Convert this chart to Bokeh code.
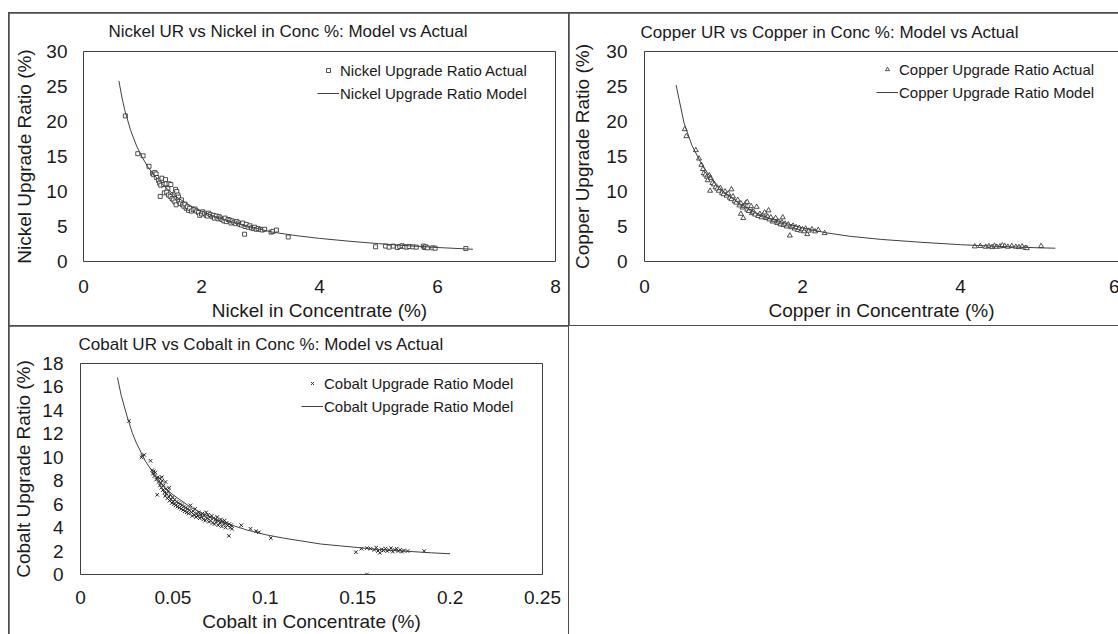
from bokeh.plotting import figure
from bokeh.models import (Range1d, FixedTicker, NumeralTickFormatter, Legend, LegendItem,
                          Spacer, Div)
from bokeh.layouts import row, column
from bokeh.embed import file_html
from bokeh.resources import INLINE

# ---------------- data ----------------
ni_x = [0.71, 0.92, 1.01, 1.11, 1.17, 1.19, 1.21, 1.23, 1.24, 1.27, 1.29, 1.31, 1.33, 1.36, 1.39, 1.40,
        1.43, 1.45, 1.48, 1.30, 1.37, 1.41, 1.44, 1.47, 1.50, 1.52, 1.54, 1.56, 1.58, 1.60, 1.61, 1.55,
        1.57, 1.62, 1.64, 1.66, 1.68, 1.70, 1.72, 1.74, 1.76, 1.78, 1.80, 1.83, 1.86, 1.89, 1.92, 1.95,
        1.97, 2.00, 2.02, 2.05, 2.08, 2.10, 2.12, 2.15, 2.18, 2.20, 2.22, 2.25, 2.28, 2.30, 2.32, 2.35,
        2.38, 2.40, 2.42, 2.45, 2.48, 2.50, 2.52, 2.55, 2.58, 2.60, 2.63, 2.65, 2.68, 2.70, 2.73, 2.74,
        2.76, 2.79, 2.82, 2.85, 2.88, 2.90, 2.93, 2.96, 3.00, 3.03, 3.07, 3.18, 3.21, 3.27, 3.47,
        4.95, 5.12, 5.18, 5.25, 5.32, 5.36, 5.40, 5.44, 5.48, 5.52, 5.58, 5.64, 5.76, 5.78, 5.80, 5.83,
        5.92, 5.96, 6.48]
ni_y = [20.8, 15.4, 15.1, 13.6, 12.6, 12.4, 12.7, 12.5, 12.0, 11.6, 11.2, 10.9, 11.9, 11.0, 11.7, 11.1,
        10.4, 11.1, 11.0, 9.3, 9.8, 9.9, 9.5, 9.3, 9.0, 8.8, 9.6, 10.3, 10.0, 9.5, 9.2, 8.5,
        8.1, 8.6, 8.3, 8.8, 8.1, 7.9, 8.2, 7.6, 7.8, 7.3, 7.6, 7.2, 7.4, 7.5, 7.2, 7.0,
        6.6, 6.8, 7.1, 6.9, 6.6, 6.5, 6.9, 6.7, 6.4, 6.6, 6.2, 6.5, 6.1, 6.4, 6.2, 6.0,
        5.8, 6.2, 5.7, 6.0, 5.9, 5.5, 5.8, 5.6, 5.4, 5.7, 5.5, 5.3, 5.2, 5.5, 3.9, 5.0,
        5.3, 4.9, 5.1, 4.8, 4.7, 4.9, 4.6, 4.7, 4.6, 4.5, 4.6, 4.2, 4.3, 4.5, 3.5,
        2.1, 2.2, 2.05, 2.2, 2.0, 2.15, 2.25, 2.1, 2.05, 2.15, 2.1, 2.05, 2.2, 2.0, 2.1, 1.95,
        1.95, 1.9, 1.85]
ni_model_x = [0.6, 0.65, 0.7, 0.8, 0.9, 1.0, 1.1, 1.2, 1.4, 1.6, 1.8, 2.0, 2.2, 2.5, 2.8, 3.2, 3.6,
              4.0, 4.5, 5.0, 5.5, 6.0, 6.6]
ni_model_y = [25.8, 23.5, 21.6, 18.7, 16.5, 14.8, 13.4, 12.3, 10.5, 9.1, 8.0, 7.2, 6.5, 5.7, 5.0, 4.2,
              3.7, 3.3, 2.9, 2.55, 2.25, 2.0, 1.75]

cu_x = [0.51, 0.53, 0.65, 0.69, 0.72, 0.74, 0.75, 0.77, 0.79, 0.80, 0.82, 0.84, 0.83, 0.86, 0.88, 0.90,
        0.92, 0.94, 0.96, 0.98, 1.00, 1.02, 1.04, 1.06, 1.08, 1.10, 1.12, 1.14, 1.16, 1.18, 1.20, 1.22,
        1.24, 1.26, 1.28, 1.30, 1.32, 1.34, 1.36, 1.38, 1.40, 1.42, 1.44, 1.46, 1.48, 1.50, 1.52, 1.54,
        1.56, 1.58, 1.60, 1.62, 1.64, 1.66, 1.68, 1.70, 1.72, 1.74, 1.76, 1.78, 1.80, 1.82, 1.84, 1.86,
        1.88, 1.90, 1.92, 1.94, 1.96, 1.98, 2.00, 2.02, 2.04, 2.06, 2.08, 2.12, 2.16, 2.20, 2.28,
        1.10, 1.30, 1.35, 1.57, 1.75, 1.22, 1.25,
        4.18, 4.25, 4.32, 4.36, 4.40, 4.43, 4.46, 4.50, 4.53, 4.56, 4.60, 4.65, 4.70, 4.74, 4.78, 4.82,
        4.84, 5.02]
cu_y = [18.9, 17.9, 15.9, 14.7, 13.8, 13.2, 12.6, 12.4, 12.1, 11.6, 12.3, 11.9, 10.1, 11.2, 11.0, 10.6,
        10.4, 10.1, 10.5, 9.8, 9.6, 10.0, 9.4, 9.7, 9.1, 8.9, 9.3, 8.6, 8.4, 8.8, 8.0, 8.3,
        7.7, 7.9, 8.3, 7.4, 7.2, 7.6, 6.9, 7.1, 6.7, 7.8, 6.5, 6.8, 6.3, 6.6, 7.0, 6.2,
        6.4, 6.0, 6.3, 5.7, 5.9, 6.2, 5.5, 5.7, 5.3, 5.6, 5.2, 5.4, 5.0, 5.3, 3.7, 4.9,
        5.1, 4.7, 4.9, 4.5, 4.8, 4.4, 4.6, 4.3, 4.7, 3.9, 4.4, 4.6, 4.3, 4.5, 4.05,
        10.3, 8.5, 7.9, 7.3, 6.3, 6.8, 6.2,
        2.15, 2.2, 2.1, 2.2, 2.05, 2.25, 2.1, 2.15, 2.3, 2.2, 2.1, 2.2, 2.1, 2.05, 2.15, 1.95,
        1.9, 2.2]
cu_model_x = [0.4, 0.5, 0.6, 0.7, 0.8, 0.9, 1.0, 1.2, 1.4, 1.6, 1.8, 2.0, 2.3, 2.6, 3.0, 3.5, 4.0,
              4.5, 5.0, 5.2]
cu_model_y = [25.2, 19.8, 16.6, 14.4, 12.6, 11.2, 10.0, 8.3, 7.0, 6.1, 5.4, 4.8, 4.1, 3.6, 3.15, 2.75,
              2.4, 2.15, 1.95, 1.9]

co_x = [0.0262, 0.0330, 0.0335, 0.0345, 0.0379, 0.0388, 0.0392, 0.0396, 0.0400, 0.0405, 0.0410, 0.0415,
        0.0418, 0.0422, 0.0426, 0.0430, 0.0434, 0.0438, 0.0442, 0.0446, 0.0450, 0.0454, 0.0458, 0.0462,
        0.0466, 0.0470, 0.0474, 0.0478, 0.0482, 0.0486, 0.0490, 0.0494, 0.0498, 0.0502, 0.0506, 0.0510,
        0.0515, 0.0520, 0.0525, 0.0530, 0.0535, 0.0540, 0.0545, 0.0550, 0.0555, 0.0560, 0.0565, 0.0570,
        0.0575, 0.0580, 0.0585, 0.0590, 0.0595, 0.0600, 0.0605, 0.0610, 0.0615, 0.0620, 0.0625, 0.0630,
        0.0635, 0.0640, 0.0645, 0.0650, 0.0655, 0.0660, 0.0665, 0.0670, 0.0675, 0.0680, 0.0685, 0.0690,
        0.0695, 0.0700, 0.0705, 0.0710, 0.0715, 0.0720, 0.0725, 0.0730, 0.0735, 0.0740, 0.0745, 0.0750,
        0.0755, 0.0760, 0.0765, 0.0770, 0.0775, 0.0780, 0.0785, 0.0790, 0.0795, 0.0803, 0.0805, 0.0810,
        0.0815, 0.0820, 0.0870, 0.0920, 0.0950, 0.0965, 0.1030, 0.0440, 0.0460, 0.0480,
        0.149, 0.152, 0.155, 0.157, 0.159, 0.160, 0.161, 0.162, 0.163, 0.164, 0.165, 0.166, 0.167,
        0.168, 0.169, 0.170, 0.171, 0.172, 0.173, 0.174, 0.175, 0.177, 0.186, 0.155]
co_y = [13.1, 10.0, 10.1, 10.2, 9.7, 8.9, 8.6, 8.8, 8.4, 8.7, 8.1, 6.8,
        8.3, 7.9, 8.2, 7.6, 7.8, 7.4, 8.0, 7.2, 7.6, 7.0, 6.7, 7.3,
        6.9, 6.5, 7.1, 6.6, 6.3, 6.8, 6.4, 6.1, 6.6, 6.2, 6.0, 6.4,
        5.9, 6.2, 5.8, 6.1, 5.7, 6.0, 5.6, 5.9, 5.5, 5.8, 5.4, 5.7,
        5.3, 5.6, 5.2, 5.5, 5.9, 5.3, 5.0, 5.4, 5.1, 5.6, 4.9, 5.2,
        5.0, 5.3, 4.8, 5.1, 4.9, 5.2, 4.7, 5.0, 4.6, 5.3, 4.8, 5.1,
        4.5, 4.9, 4.6, 5.0, 4.4, 4.8, 4.3, 4.7, 4.5, 4.9, 4.2, 4.6,
        4.4, 4.7, 4.1, 4.5, 4.3, 4.6, 4.0, 4.4, 4.2, 3.3, 4.3, 4.0,
        4.2, 3.9, 4.2, 3.9, 3.7, 3.6, 3.1, 8.3, 7.9, 7.4,
        1.9, 2.2, 2.25, 2.2, 2.1, 2.3, 2.0, 1.85, 2.15, 2.05, 2.2, 2.0, 2.1,
        2.25, 1.95, 2.1, 2.2, 2.0, 2.1, 1.95, 2.05, 2.0, 2.0, 0.0]
co_model_x = [0.020, 0.022, 0.025, 0.028, 0.030, 0.035, 0.040, 0.045, 0.050, 0.060, 0.070, 0.080,
              0.090, 0.100, 0.110, 0.120, 0.130, 0.140, 0.150, 0.160, 0.170, 0.180, 0.190, 0.200]
co_model_y = [16.8, 15.3, 13.6, 12.1, 11.3, 9.7, 8.5, 7.5, 6.8, 5.7, 4.9, 4.3,
              3.8, 3.4, 3.1, 2.85, 2.6, 2.45, 2.3, 2.15, 2.05, 1.95, 1.85, 1.77]

ni_xticks = [0, 2, 4, 6, 8]
ni_yticks = [0, 5, 10, 15, 20, 25, 30]
cu_xticks = [0, 2, 4, 6]
cu_yticks = [0, 5, 10, 15, 20, 25, 30]
co_xticks = [0, 0.05, 0.1, 0.15, 0.2, 0.25]
co_yticks = [0, 2, 4, 6, 8, 10, 12, 14, 16, 18]

FONT = "Liberation Sans"
TXT = "#1a1a1a"
FRAME = "#404040"
MARK = "#262626"


def make(title, title_off, xr, yr, xt, yt, xlab, ylab, fw, fh, bl, br, bt, bb,
         ystand, ylabstand, xstand, xlabstand, tstand, fmt=None):
    p = figure(frame_width=fw, frame_height=fh, min_border_left=bl, min_border_right=br,
               min_border_top=bt, min_border_bottom=bb, x_range=Range1d(*xr), y_range=Range1d(*yr),
               toolbar_location=None, output_backend="svg")
    p.title.text = title
    p.title.align = "left"
    p.title.vertical_align = "top"
    p.title.offset = title_off
    p.title.text_font = FONT
    p.title.text_font_size = "17px"
    p.title.text_font_style = "normal"
    p.title.text_color = TXT
    p.title.standoff = tstand
    p.grid.visible = False
    p.outline_line_color = FRAME
    p.outline_line_width = 1
    p.background_fill_color = "white"
    p.border_fill_color = "white"
    for ax in (p.xaxis[0], p.yaxis[0]):
        ax.axis_line_color = None
        ax.major_tick_line_color = None
        ax.minor_tick_line_color = None
        ax.major_tick_out = 0
        ax.major_tick_in = 0
        ax.minor_tick_out = 0
        ax.major_label_text_font = FONT
        ax.major_label_text_font_size = "19px"
        ax.major_label_text_color = TXT
        ax.axis_label_text_font = FONT
        ax.axis_label_text_font_size = "19px"
        ax.axis_label_text_font_style = "normal"
        ax.axis_label_text_color = TXT
    p.xaxis[0].ticker = FixedTicker(ticks=xt)
    p.yaxis[0].ticker = FixedTicker(ticks=yt)
    p.xaxis[0].axis_label = xlab
    p.yaxis[0].axis_label = ylab
    p.xaxis[0].major_label_standoff = xstand
    p.xaxis[0].axis_label_standoff = xlabstand
    p.yaxis[0].major_label_standoff = ystand
    p.yaxis[0].axis_label_standoff = ylabstand
    if fmt is not None:
        p.xaxis[0].formatter = fmt
    return p


def add_legend(p, r1, l1, r2, l2, loc):
    leg = Legend(items=[LegendItem(label=l1, renderers=[r1]), LegendItem(label=l2, renderers=[r2])],
                 location=loc, border_line_color=None, background_fill_alpha=0,
                 label_text_font=FONT, label_text_font_size="15px", label_text_color=TXT,
                 glyph_width=22, glyph_height=10, label_standoff=1, padding=0, spacing=3,
                 label_height=20, margin=0)
    p.add_layout(leg)


# Nickel
ni = make("Nickel UR vs Nickel in Conc %: Model vs Actual", 25, (0, 8), (0, 30), ni_xticks, ni_yticks,
          "Nickel in Concentrate (%)", "Nickel Upgrade Ratio (%)", 472, 210, 74, 13, 38, 64,
          16, 8, 18, 4, 17)
r1 = ni.scatter(ni_x, ni_y, marker="square", size=4, fill_color="white", line_color=MARK, line_width=0.8)
r2 = ni.line(ni_model_x, ni_model_y, line_color=FRAME, line_width=1)
add_legend(ni, r1, "Nickel Upgrade Ratio Actual", r2, "Nickel Upgrade Ratio Model", (234, 158))

# Copper
cu = make("Copper UR vs Copper in Conc %: Model vs Actual", -4, (0, 6), (0, 30), cu_xticks, cu_yticks,
          "Copper in Concentrate (%)", "Copper Upgrade Ratio (%)", 474, 210, 74, 1, 37, 65,
          17, 10, 18, 4, 16)
c1 = cu.scatter(cu_x, cu_y, marker="triangle", size=5, fill_color="white", line_color=MARK, line_width=0.8)
c2 = cu.line(cu_model_x, cu_model_y, line_color=FRAME, line_width=1)
add_legend(cu, c1, "Copper Upgrade Ratio Actual", c2, "Copper Upgrade Ratio Model", (232, 159))

# Cobalt
co = make("Cobalt UR vs Cobalt in Conc %: Model vs Actual", -2, (0, 0.25), (0, 18), co_xticks, co_yticks,
          "Cobalt in Concentrate (%)", "Cobalt Upgrade Ratio (%)", 462, 211, 71, 26, 37, 60,
          17, 5, 16, 4, 16, fmt=NumeralTickFormatter(format="0.[00]"))
k1 = co.scatter(co_x, co_y, marker="x", size=5, line_color=MARK, line_width=1)
k2 = co.line(co_model_x, co_model_y, line_color=FRAME, line_width=1)
add_legend(co, k1, "Cobalt Upgrade Ratio Model", k2, "Cobalt Upgrade Ratio Model", (221, 158))

blank = Div(text="", width=549, height=308, margin=0, styles={"background-color": "white"})

top = row(Spacer(width=0, height=312, margin=0), ni, cu, spacing=1)
bottom = row(Spacer(width=0, height=308, margin=0), co, blank, spacing=1)
layout = column(Spacer(width=1110, height=0, margin=0), top, bottom, spacing=1, margin=(12, 0, 0, 8),
                styles={"background-color": "#4d4d4d"})

open("out.html", "w").write(file_html(layout, INLINE))
